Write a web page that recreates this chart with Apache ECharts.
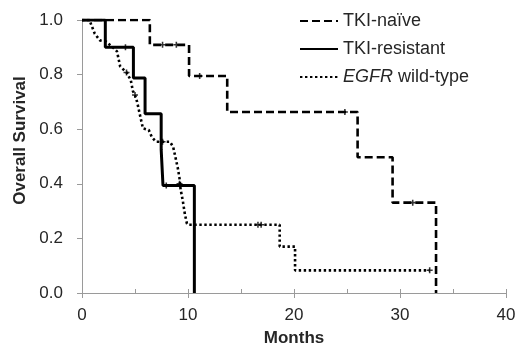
<!DOCTYPE html>
<html><head><meta charset="utf-8">
<script src="https://cdn.jsdelivr.net/npm/echarts@6/dist/echarts.min.js"></script>
<style>html,body{margin:0;padding:0;background:#fff}#c{width:516px;height:344px}</style>
</head><body><div id="c"></div>
<script>
// Kaplan-Meier data (months, survival probability)
var naiveT = [0, 6.4, 10.1, 13.7, 26.0, 29.3, 33.4];
var naiveS = [1.0, 0.909, 0.795, 0.663, 0.497, 0.331, 0];
var naiveCensT = [7.6, 8.9, 11.1, 24.8, 31.2];
var naiveCensS = [0.909, 0.909, 0.795, 0.663, 0.331];

var resT = [0, 2.2, 4.85, 5.95, 7.47, 7.64, 10.6];
var resS = [1.0, 0.9, 0.788, 0.657, 0.525, 0.394, 0];
var resCensT = [4.1, 7.95];
var resCensS = [0.9, 0.394];

var wtT = [0, 0.7, 1.2, 1.7, 2.3, 2.9, 3.3, 3.6, 4.2, 4.6, 4.8, 5.0, 5.2, 5.45, 5.75, 6.3, 6.6, 7.0, 8.3, 8.6, 8.8, 9.05, 9.2, 9.3, 9.5, 9.7, 9.9, 10.1, 18.65, 18.65, 20.1, 20.1, 32.8];
var wtS = [1.0, 1.0, 0.95, 0.925, 0.92, 0.9, 0.885, 0.83, 0.808, 0.78, 0.74, 0.725, 0.7, 0.655, 0.603, 0.597, 0.57, 0.554, 0.554, 0.535, 0.5, 0.455, 0.42, 0.38, 0.34, 0.29, 0.254, 0.25, 0.25, 0.17, 0.17, 0.083, 0.083];
var wtCensT = [4.2, 5.0, 7.6, 9.2, 16.6, 16.9, 32.8];
var wtCensS = [0.808, 0.725, 0.554, 0.40, 0.25, 0.25, 0.083];

var yTicks = [0, 0.2, 0.4, 0.6, 0.8, 1.0];
var xTicks = [0, 10, 20, 30, 40];
var names = ['TKI-naïve', 'TKI-resistant', 'EGFR wild-type'];

function zip(a, b) { return a.map(function (v, i) { return [v, b[i]]; }); }

var FONT = '"Liberation Sans", Arial, sans-serif';
var TXT = '#262626';
var CLEAR = 'rgba(0,0,0,0)';
var plus = 'path://M2,0h1.4v2h2v1.4h-2v2h-1.4v-2h-2v-1.4h2z';

function cens(name, t, s) {
  return {
    name: name, type: 'scatter', data: zip(t, s), symbol: plus, symbolSize: 6,
    itemStyle: { color: '#000' }, silent: true, z: 5
  };
}

var chart = echarts.init(document.getElementById('c'), null, { renderer: 'canvas' });
chart.setOption({
  animation: false,
  backgroundColor: '#fff',
  textStyle: { fontFamily: FONT },
  grid: { left: 82, right: 10, top: 20, bottom: 51, containLabel: false, outerBoundsMode: 'none' },
  legend: {
    data: names,
    orient: 'vertical',
    left: 294, top: 7,
    itemWidth: 38, itemHeight: 14, itemGap: 10,
    itemStyle: { opacity: 0 },
    textStyle: {
      fontFamily: FONT, fontSize: 18, color: TXT, lineHeight: 18,
      rich: { i: { fontStyle: 'italic', fontFamily: FONT, fontSize: 18, color: TXT } }
    },
    formatter: function (n) { return n === 'EGFR wild-type' ? '{i|EGFR} wild-type' : n; }
  },
  xAxis: [{
    type: 'value', min: 0, max: 40, interval: 10,
    name: 'Months', nameLocation: 'middle', nameGap: 37,
    nameTextStyle: { fontFamily: FONT, fontSize: 17, fontWeight: 'bold', color: TXT },
    axisLine: { lineStyle: { color: '#9a9a9a', width: 1 } },
    axisTick: { show: true, length: 5, lineStyle: { color: '#9a9a9a' } },
    axisLabel: { fontFamily: FONT, fontSize: 17, color: TXT, margin: 14 },
    splitLine: { show: false }
  }, {
    type: 'value', min: 0, max: 40, interval: 5, position: 'bottom', offset: 0,
    axisLine: { show: false },
    axisTick: { show: true, inside: true, length: 4, lineStyle: { color: '#9a9a9a' } },
    axisLabel: { show: false },
    splitLine: { show: false }
  }],
  yAxis: {
    type: 'value', min: 0, max: 1, interval: 0.2,
    name: 'Overall Survival', nameLocation: 'middle', nameGap: 48,
    nameTextStyle: { fontFamily: FONT, fontSize: 17, fontWeight: 'bold', color: TXT, padding: [0, 0, 0, 32] },
    axisLine: { show: true, lineStyle: { color: '#9a9a9a', width: 1 } },
    axisTick: { show: true, length: 5, lineStyle: { color: '#9a9a9a' } },
    axisLabel: { fontFamily: FONT, fontSize: 17, color: TXT, margin: 19,
      formatter: function (v) { return v.toFixed(1); } },
    splitLine: { show: false }
  },
  series: [
    { name: names[0], type: 'line', step: 'end', data: zip(naiveT, naiveS), symbol: 'none',
      lineStyle: { color: '#000', width: 2.6, type: [8, 4] }, itemStyle: { color: CLEAR } },
    { name: names[1], type: 'line', step: 'end', data: zip(resT, resS), symbol: 'none',
      lineStyle: { color: '#000', width: 3 }, itemStyle: { color: CLEAR } },
    { name: names[2], type: 'line', data: zip(wtT, wtS), symbol: 'none',
      lineStyle: { color: '#000', width: 2.6, type: [2.4, 2.6] }, itemStyle: { color: CLEAR } },
    cens('c1', naiveCensT, naiveCensS),
    cens('c2', resCensT, resCensS),
    cens('c3', wtCensT, wtCensS)
  ]
});
</script></body></html>
